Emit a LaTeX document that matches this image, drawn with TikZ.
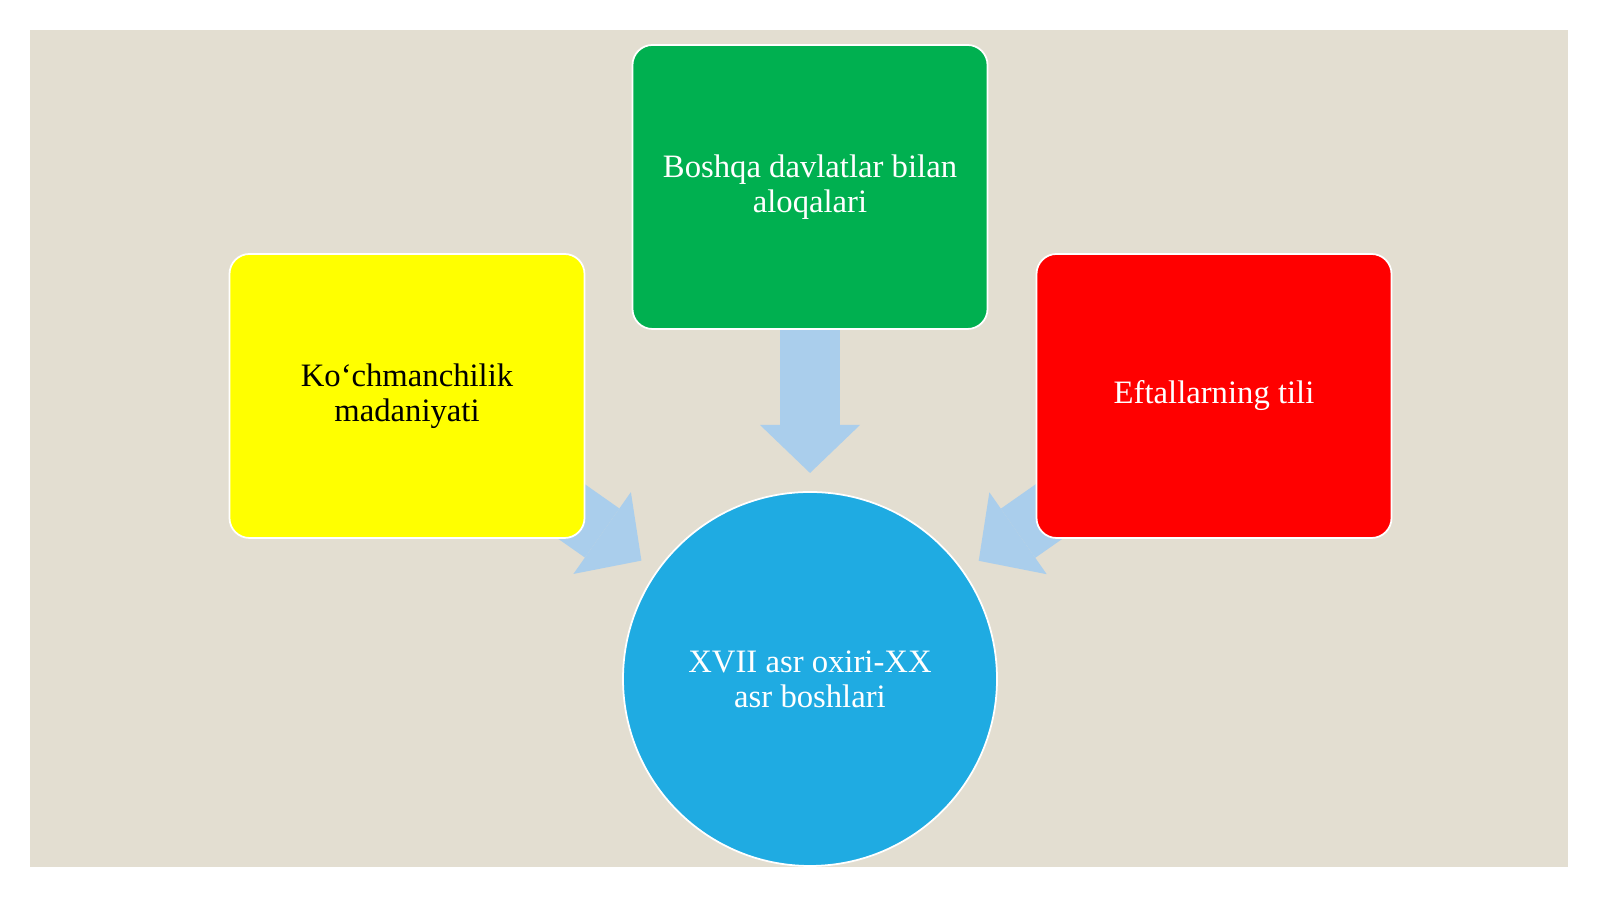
\documentclass[tikz,border=0pt]{standalone}
\usepackage{fontspec}
\setmainfont{Liberation Serif}
\usetikzlibrary{arrows.meta,backgrounds}
\definecolor{paper}{RGB}{227,222,209}
\definecolor{flowblue}{RGB}{170,206,236}
\definecolor{boxgreen}{RGB}{0,176,80}
\definecolor{boxyellow}{RGB}{255,255,0}
\definecolor{boxred}{RGB}{255,0,0}
\definecolor{hubblue}{RGB}{31,171,226}
\begin{document}
\begin{tikzpicture}[
    box/.style={rectangle, rounded corners=0.2cm, minimum width=3.55cm, minimum height=2.84cm, draw=white, line width=0.5pt, align=center, text=white, font=\fontsize{9.3pt}{10pt}\selectfont},
    hub/.style={circle, minimum size=3.74cm, inner sep=0, draw=white, line width=0.5pt, fill=hubblue, align=center, text=white, font=\fontsize{9.3pt}{10pt}\selectfont},
    flow/.style={draw=flowblue, line width=0.6cm, shorten >=2.06cm, -{Triangle[width=1cm, length=0.48cm, line width=0pt]}}
]
    \useasboundingbox (0,0) rectangle (16cm,8.99cm);
    \node[box, fill=boxgreen] (ties) at (8.10cm,7.12cm) {Boshqa davlatlar bilan\\aloqalari};
    \node[box, fill=boxyellow, text=black] (culture) at (4.07cm,5.03cm) {Ko‘chmanchilik\\madaniyati};
    \node[box, fill=boxred] (lang) at (12.14cm,5.03cm) {Eftallarning tili};
    \node[hub] (era) at (8.10cm,2.20cm) {XVII asr oxiri-XX\\asr boshlari};
    \begin{scope}[on background layer]
        \fill[white] (0,0) rectangle (16cm,8.99cm);
        \fill[paper] (0.30cm,0.32cm) rectangle (15.68cm,8.69cm);
        \draw[flow] (ties.center) -- (era.center);
        \draw[flow] (culture.center) -- (era.center);
        \draw[flow] (lang.center) -- (era.center);
    \end{scope}
\end{tikzpicture}
\end{document}
